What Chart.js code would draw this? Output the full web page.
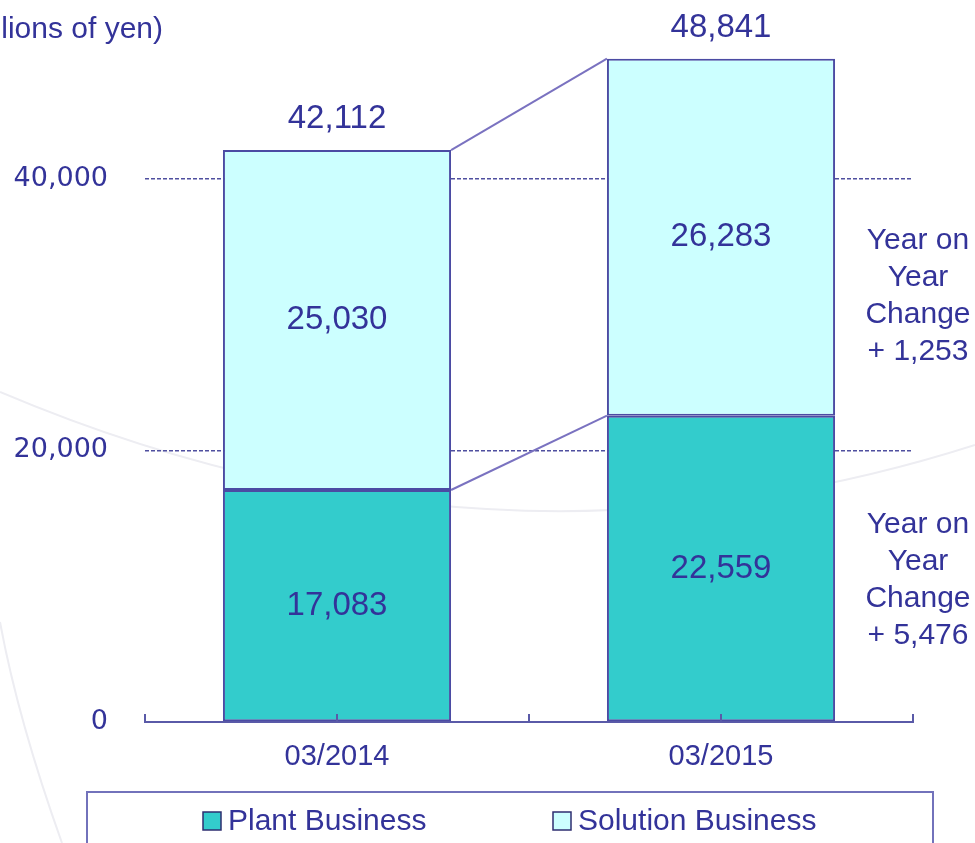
<!DOCTYPE html>
<html>
<head>
<meta charset="utf-8">
<title>Sales by segment</title>
<script src="https://cdn.jsdelivr.net/npm/chart.js@4.4.0/dist/chart.umd.min.js"></script>
<style>
  html, body { margin: 0; padding: 0; background: #ffffff; }
  #wrap { width: 975px; height: 843px; }
</style>
</head>
<body>
<div id="wrap"><canvas id="salesChart" width="975" height="843"></canvas></div>
<script>
    // Chart data (millions of yen)
    const years = ['03/2014', '03/2015'];
    const seriesNames = ['Plant Business', 'Solution Business'];
    const plantBusiness = [17083, 22559];
    const solutionBusiness = [25030, 26283];
    const totalSales = [42112, 48841];
    const yearOnYear = ['+ 1,253', '+ 5,476'];
    const yTicks = [0, 20000, 40000];
    const yMax = 50000;
    const unitLabel = '(Millions of yen)';
    const changeWords = ['Year on', 'Year', 'Change'];

    const NAVY = '#333399';
    const ARIAL = '"Liberation Sans", Arial, sans-serif';

    function fmt(v) {
      return v.toLocaleString('en-US');
    }

    // Faint background curves
    const backdropPlugin = {
      id: 'backdrop',
      beforeDraw(chart) {
        const ctx = chart.ctx;
        ctx.save();
        ctx.fillStyle = '#ffffff';
        ctx.fillRect(0, 0, chart.width, chart.height);
        ctx.strokeStyle = '#ededf2';
        ctx.lineWidth = 2;
        ctx.beginPath();
        ctx.moveTo(0, 392);
        ctx.quadraticCurveTo(490, 600, 975, 445);
        ctx.stroke();
        ctx.beginPath();
        ctx.moveTo(0, 622);
        ctx.quadraticCurveTo(18, 720, 62, 843);
        ctx.stroke();
        ctx.restore();
      }
    };

    // Connectors, tick marks, labels, notes and legend
    const overlayPlugin = {
      id: 'overlay',
      afterDatasetsDraw(chart) {
        const ctx = chart.ctx;
        const xs = chart.scales.x;
        const area = chart.chartArea;
        const plantMeta = chart.getDatasetMeta(0);
        const solMeta = chart.getDatasetMeta(1);
        ctx.save();

        // lines joining the two stacks
        ctx.strokeStyle = '#7a72c0';
        ctx.lineWidth = 2;
        [plantMeta, solMeta].forEach(meta => {
          const a = meta.data[0];
          const b = meta.data[1];
          ctx.beginPath();
          ctx.moveTo(a.x + a.width / 2, a.y);
          ctx.lineTo(b.x - b.width / 2, b.y);
          ctx.stroke();
        });

        // tick marks on the category axis, pointing up
        ctx.strokeStyle = '#5a5aa8';
        ctx.lineWidth = 2;
        const step = (xs.right - xs.left) / (years.length * 2);
        for (let k = 0; k <= years.length * 2; k++) {
          const x = Math.round(xs.left + k * step);
          ctx.beginPath();
          ctx.moveTo(x, area.bottom);
          ctx.lineTo(x, area.bottom - 8);
          ctx.stroke();
        }

        // segment values
        ctx.fillStyle = NAVY;
        ctx.textAlign = 'center';
        ctx.textBaseline = 'middle';
        ctx.font = '33px ' + ARIAL;
        [plantMeta, solMeta].forEach((meta, d) => {
          const values = chart.data.datasets[d].data;
          meta.data.forEach((el, i) => {
            ctx.fillText(fmt(values[i]), el.x, (el.y + el.base) / 2);
          });
        });

        // totals above the bars
        solMeta.data.forEach((el, i) => {
          ctx.fillText(fmt(totalSales[i]), el.x, el.y - 31);
        });

        // year on year notes on the right (solution on top, plant below)
        ctx.font = '30px ' + ARIAL;
        const noteTops = [241, 525];
        yearOnYear.forEach((diff, n) => {
          changeWords.concat([diff]).forEach((t, j) => {
            ctx.fillText(t, 918, noteTops[n] + j * 37);
          });
        });

        // unit label (runs off the left edge)
        ctx.textAlign = 'right';
        ctx.fillText(unitLabel, 163, 30);

        // legend
        ctx.strokeStyle = '#7272bb';
        ctx.lineWidth = 2;
        ctx.strokeRect(87, 792, 846, 80);
        const legendX = [203, 553];
        ctx.textAlign = 'left';
        ctx.font = '30px ' + ARIAL;
        chart.data.datasets.forEach((ds, i) => {
          ctx.fillStyle = ds.backgroundColor;
          ctx.fillRect(legendX[i], 812, 18, 18);
          ctx.strokeStyle = '#2e2e70';
          ctx.lineWidth = 1.5;
          ctx.strokeRect(legendX[i], 812, 18, 18);
          ctx.fillStyle = NAVY;
          ctx.fillText(ds.label, legendX[i] + 25, 822);
        });

        ctx.restore();
      }
    };

    const ctx = document.getElementById('salesChart').getContext('2d');
    const salesChart = new Chart(ctx, {
      type: 'bar',
      data: {
        labels: years,
        datasets: [
          {
            label: seriesNames[0],
            data: plantBusiness,
            backgroundColor: '#33cccc',
            borderColor: '#4b4ba3',
            borderWidth: 2,
            borderSkipped: false
          },
          {
            label: seriesNames[1],
            data: solutionBusiness,
            backgroundColor: '#ccffff',
            borderColor: '#4b4ba3',
            borderWidth: 2,
            borderSkipped: false
          }
        ]
      },
      options: {
        responsive: false,
        animation: false,
        layout: { padding: { top: 43, right: 62, bottom: 0, left: 0 } },
        datasets: {
          bar: { categoryPercentage: 1, barPercentage: 0.594 }
        },
        scales: {
          x: {
            stacked: true,
            grid: { display: false, drawTicks: false },
            border: { display: true, color: '#5a5aa8', width: 2 },
            ticks: {
              color: NAVY,
              font: { family: ARIAL, size: 29 },
              padding: 18,
              maxRotation: 0
            },
            afterFit(scale) { scale.height = 121; }
          },
          y: {
            stacked: true,
            min: 0,
            max: yMax,
            afterBuildTicks(scale) {
              scale.ticks = yTicks.map(v => ({ value: v }));
            },
            grid: {
              drawTicks: false,
              lineWidth: 1.5,
              color: c => (c.tick && c.tick.value === 0) ? 'rgba(0,0,0,0)' : '#4f4f9f'
            },
            border: { display: false, dash: [4, 2] },
            ticks: {
              color: NAVY,
              font: { family: '"DejaVu Sans", Verdana, sans-serif', size: 27 },
              padding: 37,
              callback: v => fmt(v)
            },
            afterFit(scale) {
              scale.width = 145;
              scale.paddingTop = 0;
              scale.paddingBottom = 0;
            }
          }
        },
        plugins: {
          legend: { display: false },
          tooltip: { enabled: false }
        }
      },
      plugins: [backdropPlugin, overlayPlugin]
    });
</script>
</body>
</html>
